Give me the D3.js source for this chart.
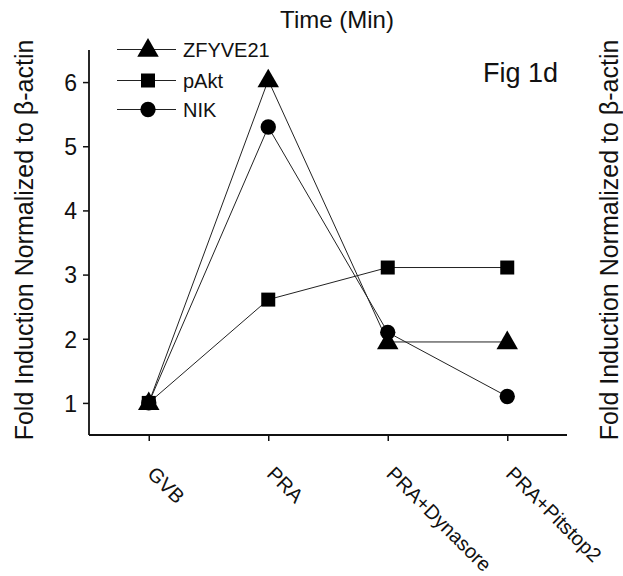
<!DOCTYPE html>
<html><head><meta charset="utf-8">
<script src="https://cdn.jsdelivr.net/npm/d3@7"></script>
<style>body{margin:0;background:#fff}svg{display:block}text{font-family:"Liberation Sans",Arial,sans-serif;fill:#111}</style>
</head><body>
<script>
const categories = ["GVB","PRA","PRA+Dynasore","PRA+Pitstop2"];
const seriesNames = ["ZFYVE21","pAkt","NIK"];
const zfyve21 = [1.0, 6.03, 1.95, 1.95];
const pakt = [1.0, 2.61, 3.11, 3.11];
const nik = [1.0, 5.3, 2.1, 1.1];
const yTicks = [1,2,3,4,5,6];
const series = [
  {name: seriesNames[0], values: zfyve21, shape: "triangle"},
  {name: seriesNames[1], values: pakt, shape: "square"},
  {name: seriesNames[2], values: nik, shape: "circle"}
];

const W = 623, H = 576;
const svg = d3.select("body").append("svg").attr("width", W).attr("height", H);
const x = d3.scaleLinear().domain([-0.5, 3.5]).range([89, 567]);
const y = d3.scaleLinear().domain([0.5, 6.5]).range([435, 50]);

const symType = {triangle: d3.symbolTriangle, square: d3.symbolSquare, circle: d3.symbolCircle};
const symSize = {triangle: 200, square: 196, circle: 185};

// axes
const yAxis = d3.axisLeft(y).tickValues(yTicks).tickSize(6).tickPadding(6).tickFormat(d3.format("d"));
const gy = svg.append("g").attr("transform", "translate(89,0)").call(yAxis);
gy.select(".domain").attr("stroke", "#111").attr("stroke-width", 1.8).attr("d", "M0,50V435");
gy.selectAll(".tick line").attr("stroke", "#111").attr("stroke-width", 1.5);
gy.selectAll(".tick text").attr("font-size", 23).attr("fill", "#111").attr("x", -12).attr("dy", "0.36em");

const xAxis = d3.axisBottom(x).tickValues([0,1,2,3]).tickSize(6).tickFormat(i => categories[i]);
const gx = svg.append("g").attr("transform", "translate(0,435)").call(xAxis);
gx.select(".domain").attr("stroke", "#111").attr("stroke-width", 1.8).attr("d", "M89,0H567");
gx.selectAll(".tick line").attr("stroke", "#111").attr("stroke-width", 1.5);
gx.selectAll(".tick text").attr("font-size", 20).attr("fill", "#111")
  .attr("text-anchor", "start").attr("x", 0).attr("y", 0).attr("dy", 0)
  .attr("transform", "translate(-3,40) rotate(45)");

// lines
const line = d3.line().x((d, i) => x(i)).y(d => y(d));
series.forEach(s => {
  svg.append("path").datum(s.values).attr("d", line).attr("fill", "none").attr("stroke", "#222").attr("stroke-width", 1);
});
series.forEach(s => {
  svg.selectAll(null).data(s.values).enter().append("path")
    .attr("d", d3.symbol().type(symType[s.shape]).size(symSize[s.shape]))
    .attr("transform", (d, i) => `translate(${x(i)},${y(d) + (s.shape === "triangle" ? 1 : 0)})`)
    .attr("fill", "#000");
});

// legend
const legY = [49.5, 80.5, 109.5];
series.forEach((s, i) => {
  const g = svg.append("g").attr("transform", `translate(0,${legY[i]})`);
  g.append("line").attr("x1", 117).attr("x2", 176).attr("y1", 0).attr("y2", 0).attr("stroke", "#222").attr("stroke-width", 1);
  g.append("path").attr("d", d3.symbol().type(symType[s.shape]).size(symSize[s.shape])).attr("transform", `translate(148,${s.shape === "triangle" ? 1 : 0})`).attr("fill", "#000");
  g.append("text").attr("x", 183).attr("y", 7.5).attr("font-size", 20).text(s.name);
});

// titles
svg.append("text").attr("x", 337).attr("y", 28).attr("text-anchor", "middle").attr("font-size", 24).text("Time (Min)");
svg.append("text").attr("x", 483).attr("y", 82).attr("text-anchor", "start").attr("font-size", 27).text("Fig 1d");
const yt = "Fold Induction Normalized to β-actin";
svg.append("text").attr("transform", "translate(33,240) rotate(-90)").attr("text-anchor", "middle").attr("font-size", 25).text(yt);
svg.append("text").attr("transform", "translate(618,240) rotate(-90)").attr("text-anchor", "middle").attr("font-size", 25).text(yt);
</script>
</body></html>
